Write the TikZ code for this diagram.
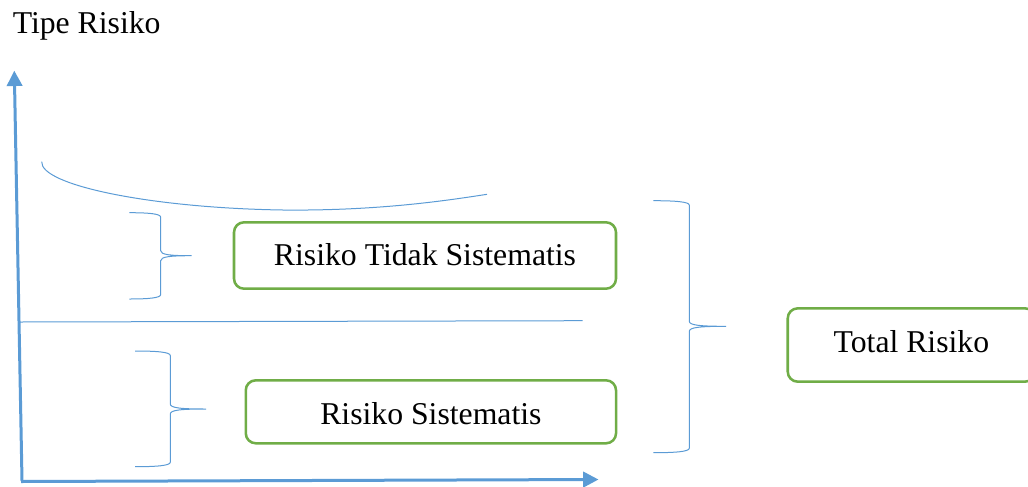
\documentclass[tikz,border=0pt]{standalone}
\usepackage{fontspec}
\setmainfont{Liberation Serif}
\newfontfamily\tnrfont{Liberation Serif}
\usetikzlibrary{arrows.meta,calc}
\definecolor{axisblue}{HTML}{5B9BD5}
\definecolor{lineblue}{HTML}{5B9BD5}
\definecolor{boxgreen}{HTML}{70AD47}
\tikzset{
  axisline/.style={draw=axisblue, line width=2.25pt, -{Triangle[length=11.5pt,width=11.5pt]}},
  thinline/.style={draw=lineblue, line width=0.75pt},
  riskbox/.style={draw=boxgreen, line width=1.9pt, rounded corners=7.5pt, inner sep=0pt, outer sep=0pt, text depth=0pt}
}
% #1 x of ends, #2 y top, #3 x of spine, #4 y of tip, #5 x of tip, #6 y bottom
\newcommand\mybrace[6]{%
  \draw[thinline] (#1,#2) .. controls ({#1+0.6*(#3-#1)},#2) and (#3,#2+1) .. (#3,#2+4.5)
    -- (#3,#4-5) .. controls (#3,#4-1) and ({#3+0.3*(#5-#3)},#4) .. (#5,#4)
    .. controls ({#3+0.3*(#5-#3)},#4) and (#3,#4+1) .. (#3,#4+5)
    -- (#3,#6-4.5) .. controls (#3,#6-1) and ({#1+0.6*(#3-#1)},#6) .. (#1,#6);}
\begin{document}
\begin{tikzpicture}[x=0.75pt,y=-0.75pt,font=\tnrfont\fontsize{23.8pt}{28pt}\selectfont]
\useasboundingbox (0,0) rectangle (1028,486);
\clip (0,0) rectangle (1028,486);
% title
\node[anchor=base west, inner sep=0pt] (title) at (12.5,33.3) {Tipe Risiko};
% axes
\coordinate (yorigin) at (22,480.5);
\coordinate (ytip) at (14.3,70.7);
\coordinate (xorigin) at (21,481.5);
\coordinate (xtip) at (598.5,479.5);
\draw[axisline] (yorigin) -- (ytip);
\draw[axisline] (xorigin) -- (xtip);
% top arc
\coordinate (arcA) at (41.7,161.7);
\coordinate (arcB) at (283,210);
\coordinate (arcC) at (487,194.3);
\draw[thinline] (arcA) .. controls (40,185) and (150,208) .. (arcB)
  .. controls (380,211) and (450,200) .. (arcC);
% middle divider
\coordinate (midL) at (20,322);
\coordinate (midR) at (582.7,320.7);
\draw[thinline] (midL) -- (midR);
% boxes
\node[riskbox, minimum width=286.5pt, minimum height=49.8pt, text height=15.3pt] (box1) at (425,255.5) {Risiko Tidak Sistematis};
\node[riskbox, minimum width=277.7pt, minimum height=47.25pt, text height=18.3pt] (box2) at (430.9,411.8) {Risiko Sistematis};
\node[riskbox, minimum width=185.5pt, minimum height=55pt, text height=10.5pt] (box3) at (911.4,345) {Total Risiko};
% braces
\mybrace{129.3}{212.7}{160.7}{255.7}{191.7}{299}
\mybrace{135}{351}{170.3}{409}{206}{466.7}
\mybrace{653.3}{200.7}{689.3}{326.3}{726}{452.7}
\end{tikzpicture}
\end{document}
